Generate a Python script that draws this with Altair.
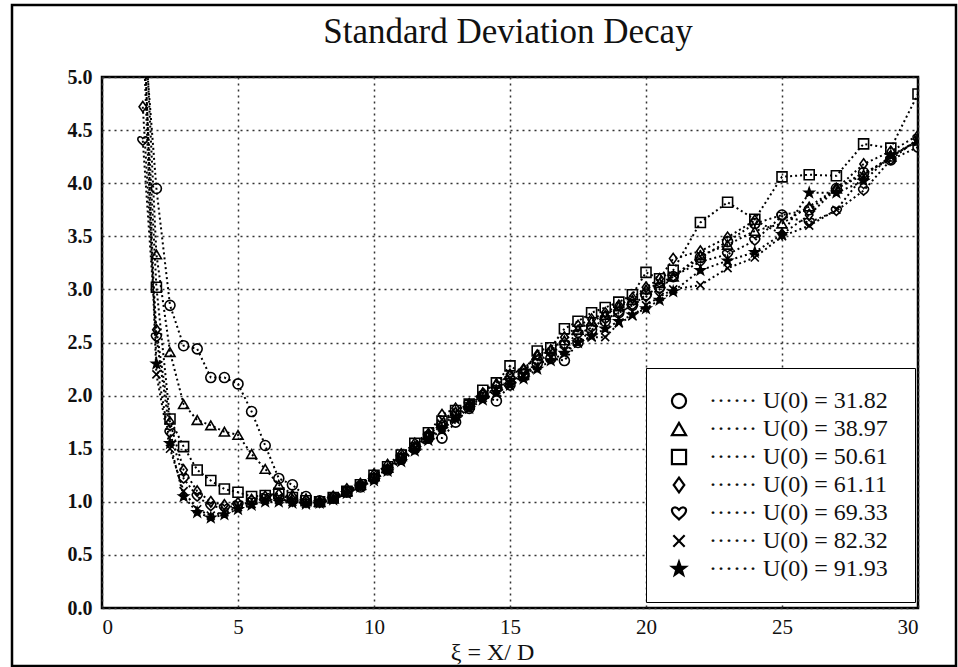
import altair as alt
import pandas as pd

# ---------------- data ----------------
XI = [1.5, 2.0, 2.5, 3.0, 3.5, 4.0, 4.5, 5.0, 5.5, 6.0, 6.5, 7.0, 7.5, 8.0, 8.5,
      9.0, 9.5, 10.0, 10.5, 11.0, 11.5, 12.0, 12.5, 13.0, 13.5, 14.0, 14.5, 15.0,
      15.5, 16.0, 16.5, 17.0, 17.5, 18.0, 18.5, 19.0, 19.5, 20.0, 20.5, 21.0,
      22.0, 23.0, 24.0, 25.0, 26.0, 27.0, 28.0, 29.0, 30.0]

SERIES = ["U(0) = 31.82", "U(0) = 38.97", "U(0) = 50.61", "U(0) = 61.11",
          "U(0) = 69.33", "U(0) = 82.32", "U(0) = 91.93"]

U_3182 = [5.60, 3.95, 2.85, 2.47, 2.44, 2.17, 2.17, 2.11, 1.85, 1.53, 1.22, 1.16, 1.05, 1.01, 1.04,
          1.09, 1.14, 1.22, 1.30, 1.40, 1.50, 1.60, 1.60, 1.75, 1.88, 2.00, 1.95, 2.10,
          2.20, 2.30, 2.35, 2.33, 2.50, 2.62, 2.70, 2.78, 2.85, 2.95, 3.02, 3.12,
          3.30, 3.45, 3.62, 3.70, 3.75, 3.95, 4.10, 4.22, 4.34]
U_3897 = [6.00, 3.33, 2.41, 1.92, 1.77, 1.72, 1.66, 1.63, 1.45, 1.31, 1.16, 1.07, 1.03, 1.00, 1.03,
          1.10, 1.16, 1.24, 1.32, 1.43, 1.53, 1.63, 1.74, 1.85, 1.93, 2.03, 2.12, 2.20,
          2.25, 2.38, 2.44, 2.52, 2.62, 2.70, 2.76, 2.84, 2.90, 3.00, 3.06, 3.12,
          3.32, 3.42, 3.55, 3.62, 3.78, 3.95, 4.08, 4.25, 4.40]
U_5061 = [5.50, 3.02, 1.78, 1.52, 1.30, 1.20, 1.12, 1.09, 1.05, 1.06, 1.08, 1.04, 1.01, 1.00, 1.04,
          1.10, 1.16, 1.25, 1.33, 1.44, 1.55, 1.65, 1.76, 1.86, 1.92, 2.05, 2.12, 2.28,
          2.20, 2.42, 2.45, 2.63, 2.70, 2.78, 2.83, 2.88, 2.95, 3.16, 3.10, 3.18,
          3.63, 3.82, 3.66, 4.06, 4.08, 4.07, 4.37, 4.33, 4.84]
U_6111 = [4.72, 2.62, 1.75, 1.30, 1.10, 1.00, 0.97, 0.99, 1.02, 1.05, 1.07, 1.02, 1.02, 1.00, 1.05,
          1.12, 1.17, 1.26, 1.35, 1.45, 1.55, 1.64, 1.82, 1.88, 1.90, 2.02, 2.10, 2.20,
          2.25, 2.38, 2.42, 2.55, 2.66, 2.72, 2.78, 2.85, 2.92, 3.02, 3.10, 3.29,
          3.36, 3.49, 3.65, 3.52, 3.70, 3.95, 4.18, 4.30, 4.45]
U_6933 = [4.40, 2.55, 1.65, 1.22, 1.05, 0.96, 0.94, 0.97, 1.00, 1.04, 1.03, 1.00, 0.99, 0.99, 1.03,
          1.10, 1.15, 1.23, 1.31, 1.42, 1.52, 1.62, 1.72, 1.82, 1.92, 2.00, 2.06, 2.15,
          2.18, 2.32, 2.40, 2.48, 2.58, 2.64, 2.72, 2.78, 2.85, 2.93, 3.00, 3.12,
          3.26, 3.33, 3.46, 3.69, 3.63, 3.74, 3.93, 4.22, 4.42]
U_8232 = [5.50, 2.20, 1.50, 1.10, 0.93, 0.87, 0.90, 0.95, 0.98, 1.02, 1.02, 1.00, 0.98, 0.99, 1.02,
          1.08, 1.14, 1.21, 1.30, 1.40, 1.50, 1.60, 1.70, 1.80, 1.90, 1.98, 2.05, 2.12,
          2.18, 2.28, 2.36, 2.42, 2.50, 2.55, 2.55, 2.68, 2.75, 2.85, 2.93, 3.00,
          3.04, 3.20, 3.30, 3.50, 3.60, 3.75, 4.07, 4.25, 4.40]
U_9193 = [5.80, 2.30, 1.55, 1.05, 0.90, 0.85, 0.88, 0.93, 0.97, 1.00, 1.00, 0.99, 0.98, 0.99, 1.02,
          1.08, 1.14, 1.20, 1.29, 1.38, 1.48, 1.58, 1.68, 1.78, 1.88, 1.96, 2.03, 2.10,
          2.16, 2.25, 2.33, 2.40, 2.50, 2.56, 2.63, 2.70, 2.76, 2.82, 2.90, 2.98,
          3.18, 3.27, 3.35, 3.52, 3.91, 3.91, 4.02, 4.26, 4.40]

VALUES = [U_3182, U_3897, U_5061, U_6111, U_6933, U_8232, U_9193]

X_TICKS = [0, 5, 10, 15, 20, 25, 30]
Y_TICKS = [0.0, 0.5, 1.0, 1.5, 2.0, 2.5, 3.0, 3.5, 4.0, 4.5, 5.0]

TITLE = "Standard Deviation Decay"
X_TITLE = "ξ = X/ D"

# marker shapes (Vega unit-square paths)
HEART = "M0,0.9C-0.3,0.6,-1,0.2,-1,-0.35C-1,-0.8,-0.45,-1,0,-0.45C0.45,-1,1,-0.8,1,-0.35C1,0.2,0.3,0.6,0,0.9Z"
CROSS = "M-0.8,-0.8L0.8,0.8M-0.8,0.8L0.8,-0.8"
STAR = "M0,-1L0.235,-0.324L0.951,-0.309L0.38,0.124L0.588,0.809L0,0.4L-0.588,0.809L-0.38,0.124L-0.951,-0.309L-0.235,-0.324Z"
DIAMOND = "M0,-1.05L0.75,0L0,1.05L-0.75,0Z"
SHAPES = ["circle", "triangle-up", "square", DIAMOND, HEART, CROSS, STAR]
FILLS = ["transparent", "transparent", "transparent", "transparent", "transparent", "transparent", "black"]
STROKES = ["black"] * 7

rows = []
for name, vals in zip(SERIES, VALUES):
    for x, y in zip(XI, vals):
        rows.append({"series": name, "x": x, "y": y})
df = pd.DataFrame(rows)

FONT = "Liberation Serif"
GRID = dict(grid=True, gridColor="#333", gridDash=[2, 4], gridWidth=1.5, gridOpacity=1)

xs = alt.X("x:Q", scale=alt.Scale(domain=[0, 30], nice=False),
           axis=alt.Axis(values=X_TICKS, title=X_TITLE, ticks=False, domain=False,
                         labelFont=FONT, labelFontSize=21, labelPadding=8, labelColor="#111",
                         titleFont=FONT, titleFontSize=24, titleFontWeight="normal", titleColor="#111",
                         titleX=390, titleY=51, titleBaseline="alphabetic", titleAlign="center",
                         **GRID))
ys = alt.Y("y:Q", scale=alt.Scale(domain=[0, 5], nice=False),
           axis=alt.Axis(values=Y_TICKS, format=".1f", title=None, ticks=False, domain=False,
                         labelFont=FONT, labelFontSize=20, labelFontWeight="bold", labelPadding=10,
                         labelColor="#111", **GRID))

base = alt.Chart(df)

lines = base.mark_line(color="black", strokeDash=[2, 3], strokeWidth=2, clip=True).encode(
    x=xs, y=ys, detail="series:N", order="x:Q")

legend = alt.Legend(title=None, orient="none", legendX=544, legendY=291,
                    fillColor="white", strokeColor="black", padding=21,
                    labelFont=FONT, labelFontSize=24, labelColor="#111",
                    labelExpr="'······  ' + datum.label", labelOffset=18, labelLimit=400,
                    symbolSize=200, symbolStrokeColor="black", symbolStrokeWidth=2.2,
                    rowPadding=4)

points = base.mark_point(strokeWidth=1.6, size=100, opacity=1, clip=True).encode(
    x=xs, y=ys,
    shape=alt.Shape("series:N", sort=SERIES, scale=alt.Scale(domain=SERIES, range=SHAPES), legend=legend),
    fill=alt.Fill("series:N", sort=SERIES, scale=alt.Scale(domain=SERIES, range=FILLS), legend=legend),
    stroke=alt.Stroke("series:N", sort=SERIES, scale=alt.Scale(domain=SERIES, range=STROKES), legend=legend),
)

frame = alt.Chart(alt.Data(values=[{}])).mark_rect(
    filled=False, stroke="black", strokeWidth=2.5).encode(
    x=alt.value(-90), x2=alt.value(854), y=alt.value(-72), y2=alt.value(589))

title = alt.Chart(alt.Data(values=[{}])).mark_text(
    font=FONT, fontSize=35, color="#111", align="center", baseline="alphabetic").encode(
    x=alt.value(406), y=alt.value(-34), text=alt.value(TITLE))

chart = alt.layer(lines, points, frame, title).properties(
    width=816, height=531,
    background="white",
    autosize=alt.AutoSizeParams(type="none"),
    padding={"left": 102, "top": 77, "right": 40, "bottom": 59},
).configure_view(stroke="black", strokeWidth=2.5)

chart.save("out.html", embed_options={"renderer": "svg", "actions": False})
